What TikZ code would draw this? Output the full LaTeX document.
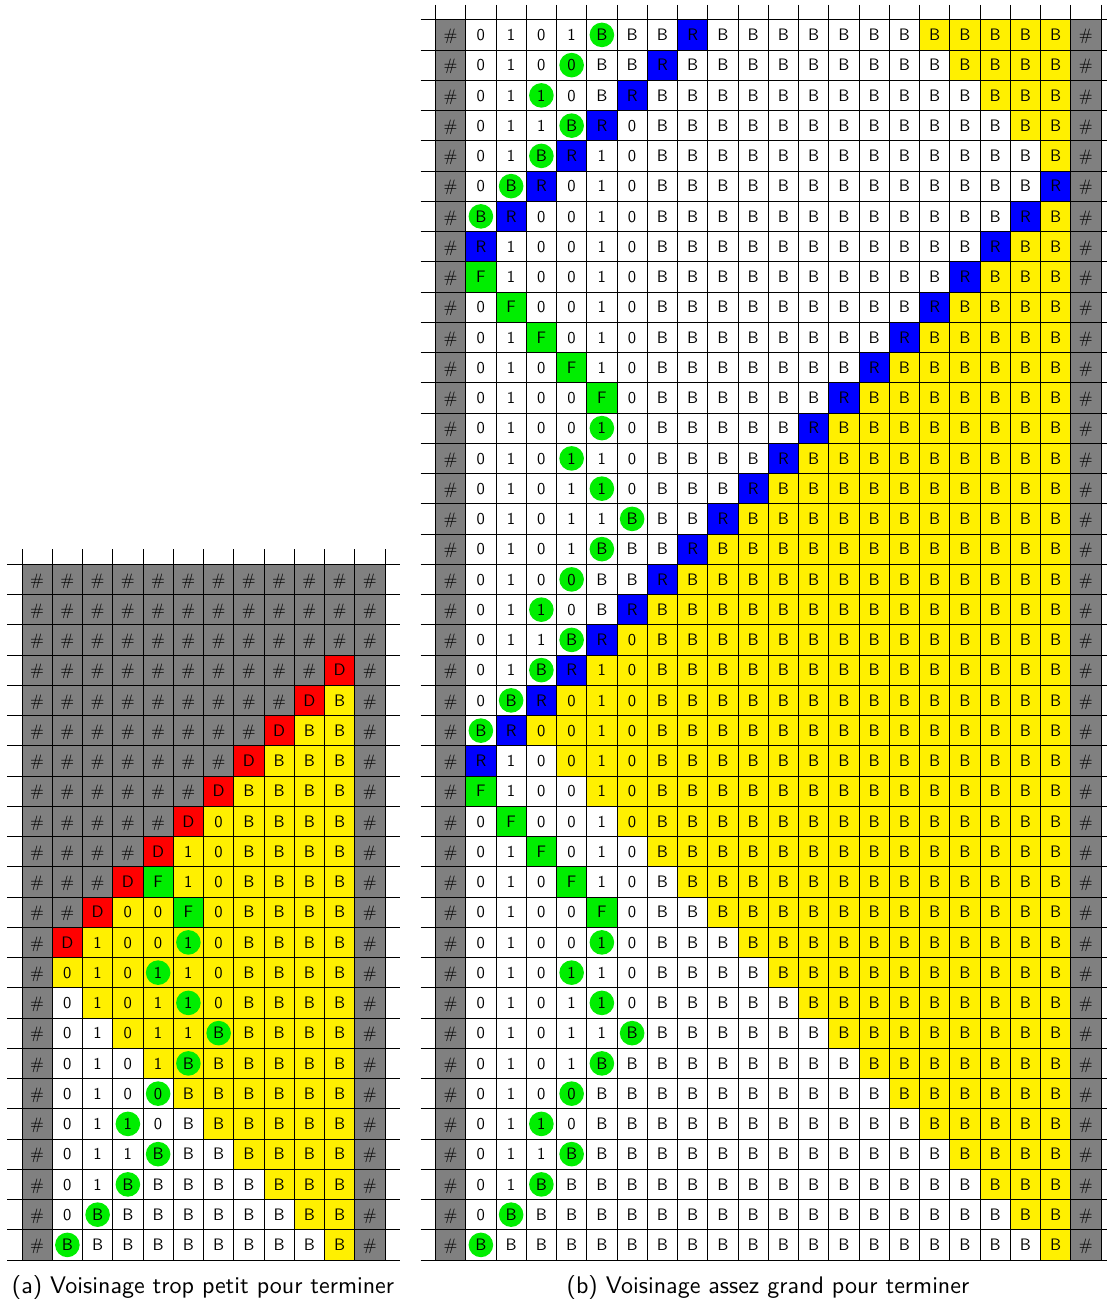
\documentclass[tikz,border=0pt]{standalone}
\usepackage{graphicx}
\definecolor{cgray}{RGB}{128,128,128}
\definecolor{cyellow}{RGB}{255,240,0}
\definecolor{cred}{RGB}{255,0,0}
\definecolor{cblue}{RGB}{0,0,255}
\definecolor{cgreen}{RGB}{0,238,0}
\newcommand\cellscale[1]{\scalebox{1.66}{#1}}
\makeatletter
\newcount\cellcol
\def\cellrow#1#2#3#4#5{\def\cr@p{#1}\def\cr@x{#2}\def\cr@y{#3}\def\cr@r{#4}\cellcol=0 \cr@parse#5\relax}
\def\cr@parse#1{\ifx\relax#1\else\advance\cellcol by 1 \edef\cr@c{\the\cellcol}\placecell{\cr@p}{\cr@x}{\cr@y}{\cr@r}{\cr@c}{#1}\expandafter\cr@parse\fi}
\def\placecell#1#2#3#4#5#6{\node[cellbase,k#6] (#1-#4-#5) at ({#2+(#5+0.5)*30.25},{#3+(#4-0.5)*30.25}) {\cellscale{\csname kt#6\endcsname}};}
\def\defcell#1#2#3{\tikzset{k#1/.style={#2}}\expandafter\def\csname kt#1\endcsname{#3}}
\makeatother
\tikzset{
  cellbase/.style={minimum width=30.25pt, minimum height=30.25pt, inner sep=0pt, outer sep=0pt,
    text height=11.5pt, text depth=0pt, font=\sffamily\fontsize{10}{12}\selectfont, text=black},
  dot/.style={path picture={\fill[cgreen] (path picture bounding box.center) circle (12.3pt);}},
  gl/.style={draw=black, line width=1pt},
  capt/.style={inner sep=0pt, font=\sffamily\fontsize{10}{12}\selectfont}
}
\defcell{h}{fill=cgray}{\#}
\defcell{0}{fill=white}{0}
\defcell{1}{fill=white}{1}
\defcell{b}{fill=white}{B}
\defcell{o}{fill=cyellow}{0}
\defcell{i}{fill=cyellow}{1}
\defcell{y}{fill=cyellow}{B}
\defcell{R}{fill=cblue}{R}
\defcell{D}{fill=cred}{D}
\defcell{F}{fill=cgreen}{F}
\defcell{z}{fill=white,dot}{0}
\defcell{u}{fill=white,dot}{1}
\defcell{c}{fill=white,dot}{B}
\defcell{U}{fill=cyellow,dot}{1}
\defcell{C}{fill=cyellow,dot}{B}
\begin{document}
\begin{tikzpicture}[x=1pt,y=-1pt]
\useasboundingbox (0,0) rectangle (1107,1299);
\clip (0,0) rectangle (1107,1299);
\def\W{30.25}
% ---------- grid (a) ----------
\def\XA{22}\def\YA{564.25}
\foreach \r in {1,...,23}{\placecell{a}{\XA}{\YA}{\r}{0}{h}\placecell{a}{\XA}{\YA}{\r}{11}{h}}
\cellrow{a}{\XA}{\YA}{1}{hhhhh hhhhh}
\cellrow{a}{\XA}{\YA}{2}{hhhhh hhhhh}
\cellrow{a}{\XA}{\YA}{3}{hhhhh hhhhh}
\cellrow{a}{\XA}{\YA}{4}{hhhhh hhhhD}
\cellrow{a}{\XA}{\YA}{5}{hhhhh hhhDy}
\cellrow{a}{\XA}{\YA}{6}{hhhhh hhDyy}
\cellrow{a}{\XA}{\YA}{7}{hhhhh hDyyy}
\cellrow{a}{\XA}{\YA}{8}{hhhhh Dyyyy}
\cellrow{a}{\XA}{\YA}{9}{hhhhD oyyyy}
\cellrow{a}{\XA}{\YA}{10}{hhhDi oyyyy}
\cellrow{a}{\XA}{\YA}{11}{hhDFi oyyyy}
\cellrow{a}{\XA}{\YA}{12}{hDooF oyyyy}
\cellrow{a}{\XA}{\YA}{13}{DiooU oyyyy}
\cellrow{a}{\XA}{\YA}{14}{oioUi oyyyy}
\cellrow{a}{\XA}{\YA}{15}{0ioiU oyyyy}
\cellrow{a}{\XA}{\YA}{16}{01oii Cyyyy}
\cellrow{a}{\XA}{\YA}{17}{010iC yyyyy}
\cellrow{a}{\XA}{\YA}{18}{010zy yyyyy}
\cellrow{a}{\XA}{\YA}{19}{01u0b yyyyy}
\cellrow{a}{\XA}{\YA}{20}{011cb byyyy}
\cellrow{a}{\XA}{\YA}{21}{01cbb bbyyy}
\cellrow{a}{\XA}{\YA}{22}{0cbbb bbbyy}
\cellrow{a}{\XA}{\YA}{23}{cbbbb bbbby}
\foreach \i in {0,...,23} \draw[gl] ({\XA-15},{\YA+\i*\W}) -- ({\XA+12*\W+15},{\YA+\i*\W});
\foreach \j in {0,...,12} \draw[gl] ({\XA+\j*\W},{\YA-15}) -- ({\XA+\j*\W},{\YA+23*\W});
% ---------- grid (b) ----------
\def\XB{435.5}\def\YB{19.75}
\foreach \r in {1,...,41}{\placecell{b}{\XB}{\YB}{\r}{0}{h}\placecell{b}{\XB}{\YB}{\r}{21}{h}}
\cellrow{b}{\XB}{\YB}{1}{0101c bbRbb bbbbb yyyyy}
\cellrow{b}{\XB}{\YB}{2}{010zb bRbbb bbbbb byyyy}
\cellrow{b}{\XB}{\YB}{3}{01u0b Rbbbb bbbbb bbyyy}
\cellrow{b}{\XB}{\YB}{4}{011cR 0bbbb bbbbb bbbyy}
\cellrow{b}{\XB}{\YB}{5}{01cR1 0bbbb bbbbb bbbby}
\cellrow{b}{\XB}{\YB}{6}{0cR01 0bbbb bbbbb bbbbR}
\cellrow{b}{\XB}{\YB}{7}{cR001 0bbbb bbbbb bbbRy}
\cellrow{b}{\XB}{\YB}{8}{R1001 0bbbb bbbbb bbRyy}
\cellrow{b}{\XB}{\YB}{9}{F1001 0bbbb bbbbb bRyyy}
\cellrow{b}{\XB}{\YB}{10}{0F001 0bbbb bbbbb Ryyyy}
\cellrow{b}{\XB}{\YB}{11}{01F01 0bbbb bbbbR yyyyy}
\cellrow{b}{\XB}{\YB}{12}{010F1 0bbbb bbbRy yyyyy}
\cellrow{b}{\XB}{\YB}{13}{0100F 0bbbb bbRyy yyyyy}
\cellrow{b}{\XB}{\YB}{14}{0100u 0bbbb bRyyy yyyyy}
\cellrow{b}{\XB}{\YB}{15}{010u1 0bbbb Ryyyy yyyyy}
\cellrow{b}{\XB}{\YB}{16}{0101u 0bbbR yyyyy yyyyy}
\cellrow{b}{\XB}{\YB}{17}{01011 cbbRy yyyyy yyyyy}
\cellrow{b}{\XB}{\YB}{18}{0101c bbRyy yyyyy yyyyy}
\cellrow{b}{\XB}{\YB}{19}{010zb bRyyy yyyyy yyyyy}
\cellrow{b}{\XB}{\YB}{20}{01u0b Ryyyy yyyyy yyyyy}
\cellrow{b}{\XB}{\YB}{21}{011cR oyyyy yyyyy yyyyy}
\cellrow{b}{\XB}{\YB}{22}{01cRi oyyyy yyyyy yyyyy}
\cellrow{b}{\XB}{\YB}{23}{0cRoi oyyyy yyyyy yyyyy}
\cellrow{b}{\XB}{\YB}{24}{cRooi oyyyy yyyyy yyyyy}
\cellrow{b}{\XB}{\YB}{25}{R10oi oyyyy yyyyy yyyyy}
\cellrow{b}{\XB}{\YB}{26}{F100i oyyyy yyyyy yyyyy}
\cellrow{b}{\XB}{\YB}{27}{0F001 oyyyy yyyyy yyyyy}
\cellrow{b}{\XB}{\YB}{28}{01F01 0yyyy yyyyy yyyyy}
\cellrow{b}{\XB}{\YB}{29}{010F1 0byyy yyyyy yyyyy}
\cellrow{b}{\XB}{\YB}{30}{0100F 0bbyy yyyyy yyyyy}
\cellrow{b}{\XB}{\YB}{31}{0100u 0bbby yyyyy yyyyy}
\cellrow{b}{\XB}{\YB}{32}{010u1 0bbbb yyyyy yyyyy}
\cellrow{b}{\XB}{\YB}{33}{0101u 0bbbb byyyy yyyyy}
\cellrow{b}{\XB}{\YB}{34}{01011 cbbbb bbyyy yyyyy}
\cellrow{b}{\XB}{\YB}{35}{0101c bbbbb bbbyy yyyyy}
\cellrow{b}{\XB}{\YB}{36}{010zb bbbbb bbbby yyyyy}
\cellrow{b}{\XB}{\YB}{37}{01u0b bbbbb bbbbb yyyyy}
\cellrow{b}{\XB}{\YB}{38}{011cb bbbbb bbbbb byyyy}
\cellrow{b}{\XB}{\YB}{39}{01cbb bbbbb bbbbb bbyyy}
\cellrow{b}{\XB}{\YB}{40}{0cbbb bbbbb bbbbb bbbyy}
\cellrow{b}{\XB}{\YB}{41}{cbbbb bbbbb bbbbb bbbby}
\foreach \i in {0,...,41} \draw[gl] ({\XB-15},{\YB+\i*\W}) -- ({\XB+22*\W+15},{\YB+\i*\W});
\foreach \j in {0,...,22} \draw[gl] ({\XB+\j*\W},{\YB-15}) -- ({\XB+\j*\W},{\YB+41*\W});
% ---------- captions ----------
\node[capt, anchor=base] (capa) at (203,1293) {\scalebox{2.4}{(a) Voisinage trop petit pour terminer}};
\node[capt, anchor=base] (capb) at (768,1293) {\scalebox{2.4}{(b) Voisinage assez grand pour terminer}};
\end{tikzpicture}
\end{document}
